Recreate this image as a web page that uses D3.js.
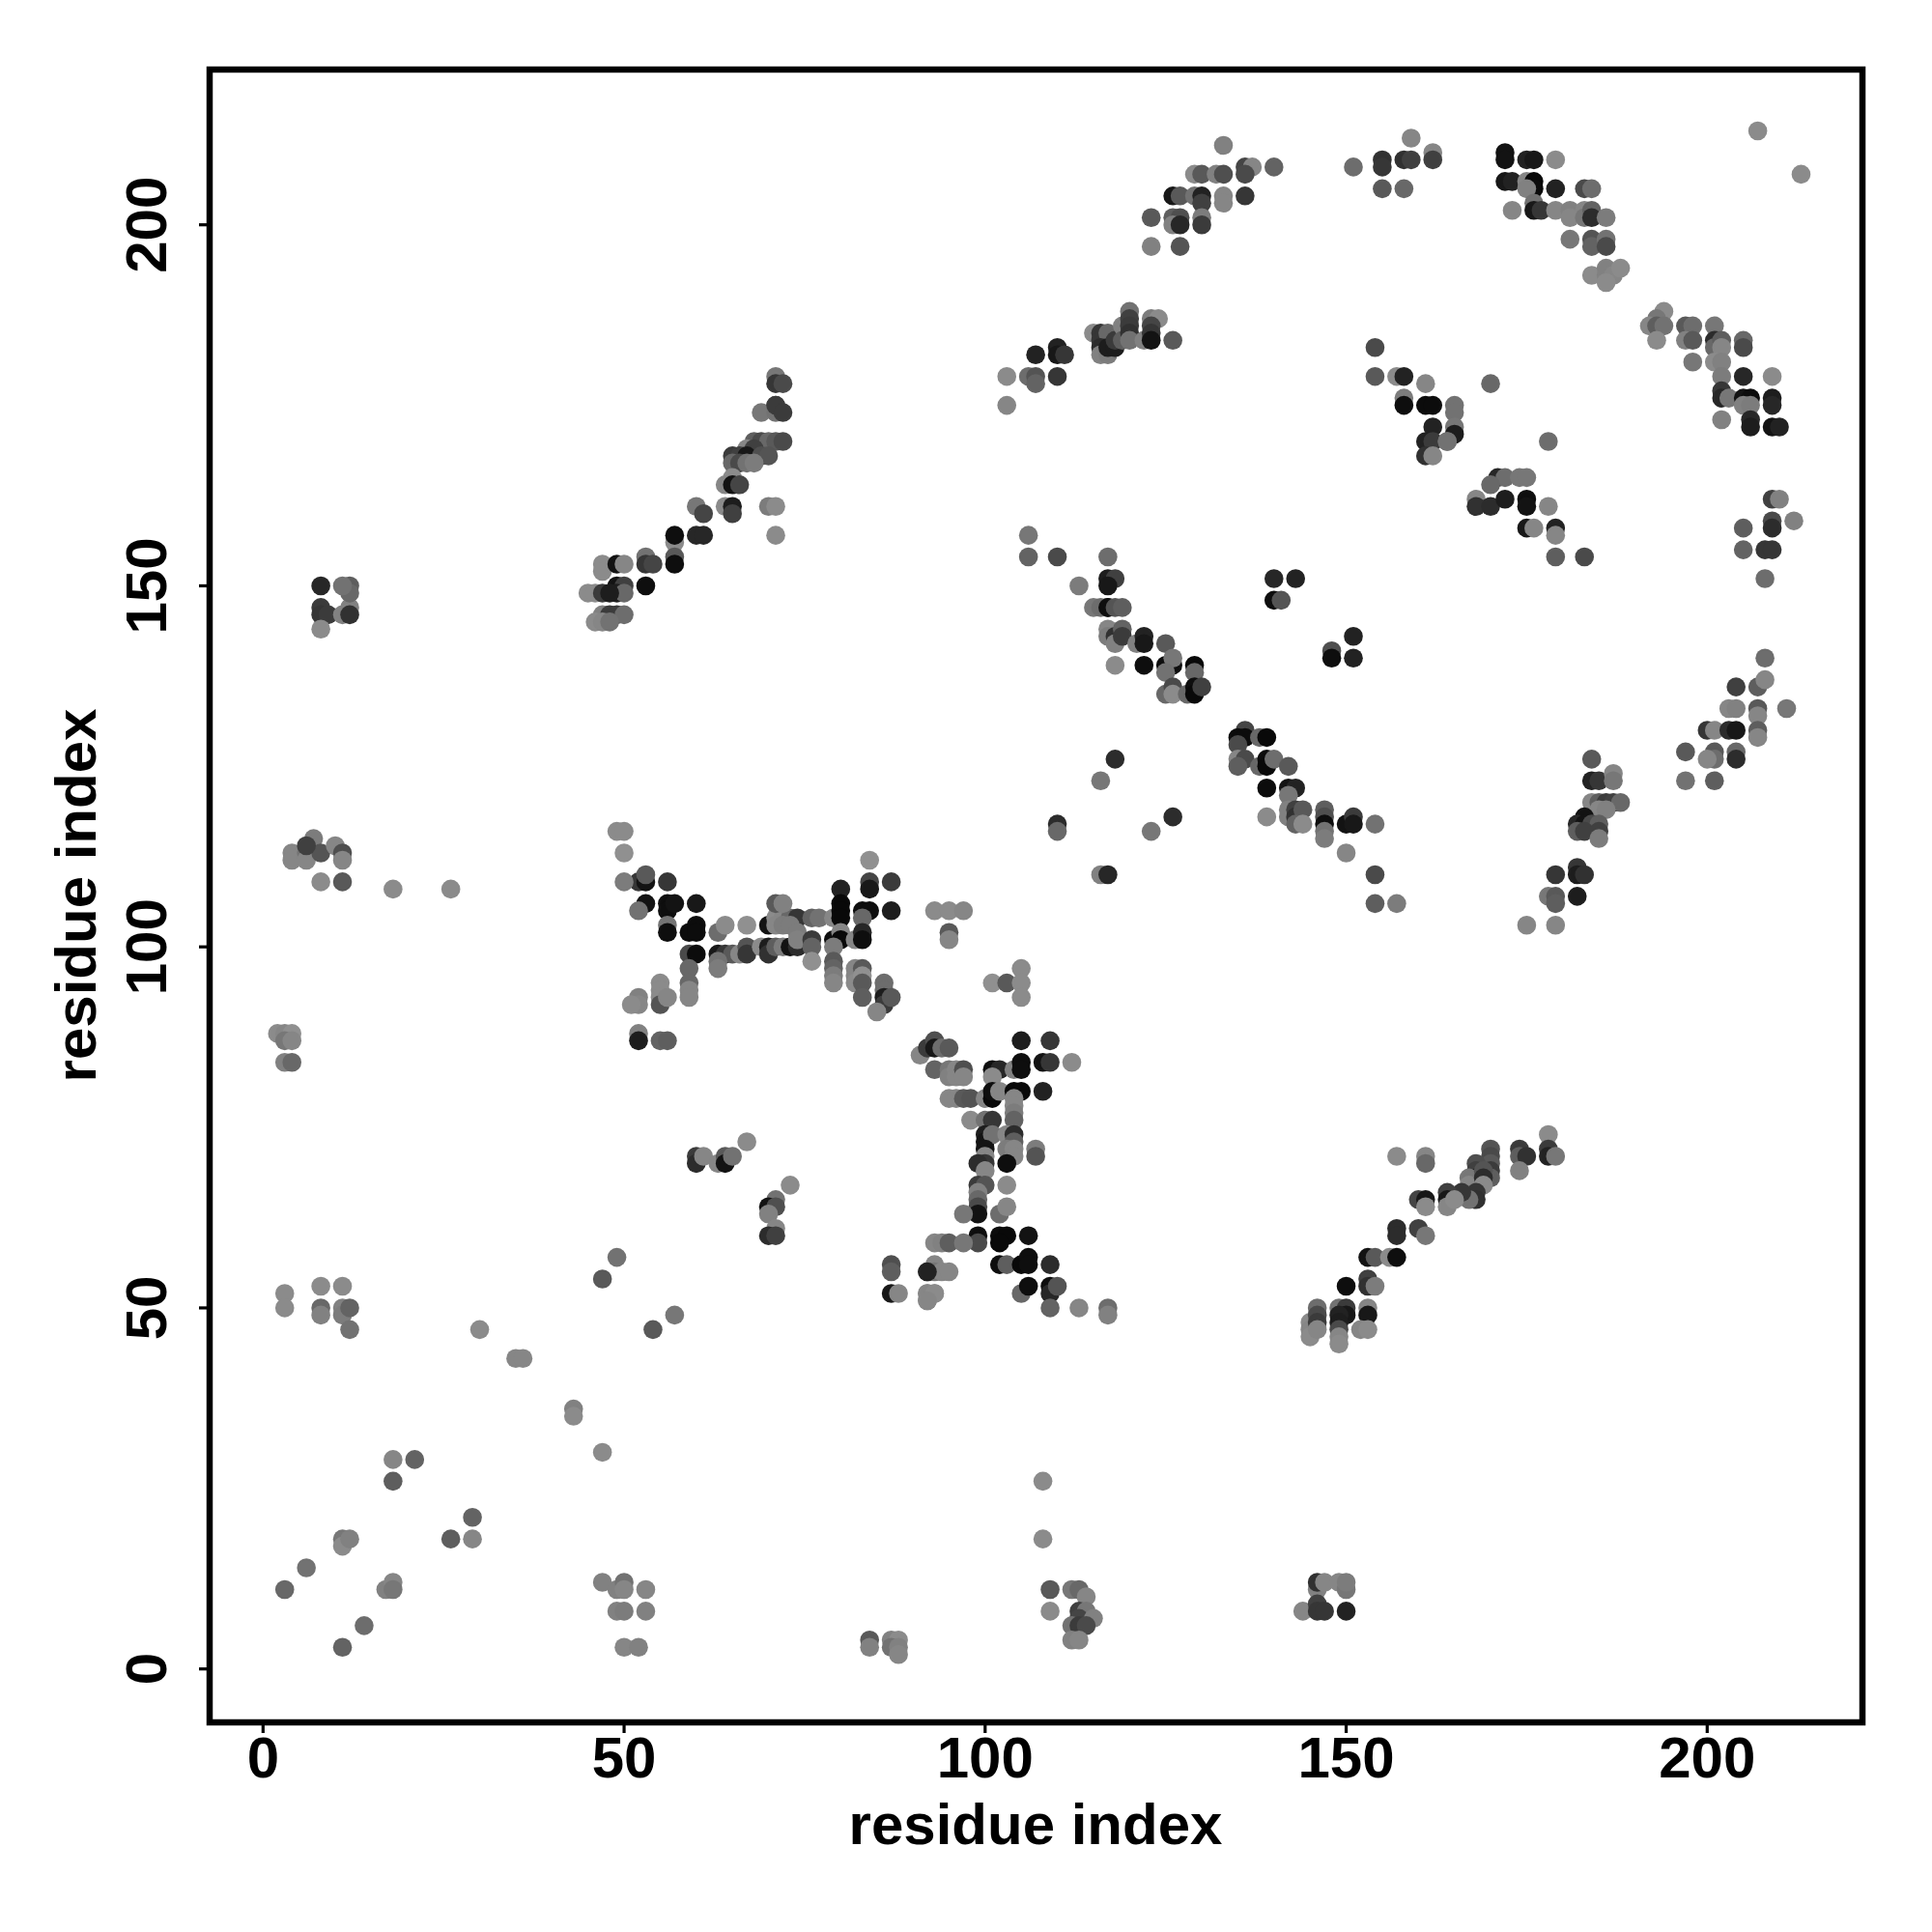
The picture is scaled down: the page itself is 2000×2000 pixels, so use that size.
<!DOCTYPE html>
<html><head><meta charset="utf-8">
<script src="https://cdn.jsdelivr.net/npm/d3@7"></script>
<style>html,body{margin:0;padding:0;background:#fff}svg{display:block}</style></head><body>
<svg id="c" width="2000" height="2000"></svg>
<script>
const tickLabels=[0,50,100,150,200];
const axisTitle="residue index";
// each group: residue x, residue y, grey level of the dot
const xA=[3,6,11,11,11,12,14,17,18,18,18,18,21,26,29,29,47,49,50,50,49,50,53,53,50,52];
const yA=[11,14,18,17,3,18,6,11,12,11,29,26,29,18,21,18,12,11,12,11,8,8,8,11,3,3];
const gA=[100,110,115,135,95,125,105,125,130,115,130,90,95,90,95,130,125,125,110,130,125,120,125,130,130,125];
const xB=[84,84,87,88,87,88,88,108,108,109,109,112,113,114,113,114,113,115,112,113,114,112,113];
const yB=[4,3,4,4,3,3,2,26,18,11,8,11,11,10,8,8,7,7,6,6,6,4,4];
const gB=[85,125,125,135,110,125,130,135,135,85,135,115,100,130,60,115,65,125,110,55,70,125,130];
const xC=[146,146,147,149,150,150,144,146,146,147,150];
const yC=[11,12,12,12,11,12,8,9,8,8,8];
const gC=[125,45,130,130,115,120,130,60,50,50,30];
const xD=[3,3,8,8,8,11,11,11,12,12,30,35,36,43,43,47,49,47,54,57];
const yD=[52,50,53,50,49,53,50,49,50,47,47,43,43,36,35,30,57,54,47,49];
const gD=[135,135,135,100,125,135,125,120,95,110,135,130,130,125,135,135,110,85,85,115];
const xE=[2,3,4,3,4,3,4,60,60,61,63,64,64,65,67,73,71,70,71,70,71,70,71];
const yE=[88,88,88,87,87,84,84,71,70,71,70,71,70,71,73,67,65,64,64,63,61,60,60];
const gE=[135,130,140,115,130,125,100,55,40,130,130,85,15,110,135,135,110,15,75,125,130,40,60];
const xF=[4,4,6,6,7,8,8,10,11,11,11,18,26,8,8,8,9,8,11,12,12,12,12,11];
const yF=[113,112,113,112,115,113,109,114,113,112,109,108,108,150,147,146,146,144,146,147,146,150,149,150];
const gF=[130,130,110,130,120,80,135,130,75,130,85,135,135,35,55,50,55,135,125,125,45,90,100,110];
const xG=[6,49,50,50,52,53,53,56,53,52,56,56,57,60,56,56,59,60,60,59,60,59,59,59,59];
const yG=[114,116,116,113,109,109,110,109,106,105,106,105,106,106,103,102,102,103,102,99,99,97,95,94,93];
const gG=[60,135,135,140,50,15,85,50,15,110,10,10,15,20,112,10,8,8,8,70,8,100,100,130,130];
const xH=[50,55,55,55,55,56,52,52,51,52,52,55,56,63,64,65,66,67,67,63,63,63,64,67];
const yH=[109,95,94,93,92,93,93,92,92,88,87,87,87,99,99,99,99,100,99,98,97,102,103,103];
const gH=[120,135,135,135,80,130,125,130,135,125,25,95,90,20,50,85,130,80,50,110,120,105,135,140];
const xI=[69,70,70,71,72,73,74,70,71,72,73,74,71,72,73,71,72,74,74,76,76,76,76,77,79];
const yI=[100,100,99,100,100,100,100,103,104,104,104,104,103,103,103,106,106,102,101,101,100,98,104,104,104];
const gI=[135,25,45,90,120,15,40,15,135,130,100,50,130,120,120,85,125,120,125,55,95,140,95,110,130];
const xJ=[80,84,84,84,87,80,80,80,83,84,87,83,79,80,80,82,83,83,79,79,79,79,79];
const yJ=[108,112,109,108,109,106,105,104,105,105,105,104,101,102,101,101,102,101,100,98,97,96,95];
const gJ=[30,140,65,20,55,5,5,5,10,10,25,100,10,130,5,130,35,10,120,85,95,120,130];
const xK=[82,82,82,83,83,83,83,86,86,86,86,87,85,93,95,97,95,95,101,103,105,105,105];
const yK=[97,96,95,97,96,95,93,95,94,93,92,93,91,105,105,105,102,101,95,95,97,95,93];
const gK=[130,130,135,85,140,85,90,105,105,25,55,85,130,135,135,130,85,130,140,85,135,135,135];
const xL=[91,92,93,93,94,95,93,95,95,96,96,97,97,101,102,101,104,105,105,105,109,108,109,112];
const yL=[85,86,87,86,86,86,83,83,82,83,82,83,82,83,83,82,83,84,83,87,87,84,84,84];
const gL=[130,55,75,20,105,85,95,115,125,130,130,75,130,10,35,135,125,10,10,25,50,15,50,135];
const xM=[95,96,97,98,100,101,101,102,104,105,108,104,98,100,101,104,104,104,100,100,101,100,103,104,104,103,104,104,103,107,107];
const yM=[79,79,79,79,79,79,80,80,80,80,80,79,76,76,76,78,77,76,74,73,74,72,74,74,73,72,72,71,70,72,71];
const gM=[130,130,85,80,130,5,10,130,5,5,30,130,135,110,50,130,120,95,25,15,110,15,130,40,90,120,130,130,10,120,80];
const xN=[100,100,99,100,99,100,103,99,99,99,99,97,102,103,99,99,102,103,102,106,93,94,95,97];
const yN=[71,70,70,69,67,67,67,66,65,64,63,63,63,64,60,59,60,60,59,60,59,59,59,59];
const gN=[130,50,40,130,55,80,135,125,100,70,15,115,105,130,10,70,8,5,5,15,130,125,90,115];
const xO=[102,103,105,106,106,109,92,93,93,94,95,92,93,92,105,106,109,109,110,109,113,117,117,87,87,87,88,92,92,93,92];
const yO=[56,56,56,57,56,56,55,56,55,55,55,52,52,51,52,53,53,52,53,50,50,50,49,56,55,52,52,55,52,52,51];
const gO=[10,90,5,10,10,40,55,130,115,130,130,130,135,130,100,10,10,35,80,95,130,105,125,75,90,20,130,30,130,135,130];
const xP=[71,71,71,72,69,71,71,72,68,69,70,71,72,67,68,65,66,67,69,70,65,66,67,68,65,64,65,66];
const yP=[179,178,175,178,174,174,175,174,170,170,170,170,170,169,169,168,168,168,168,168,167,167,167,167,165,164,164,164];
const gP=[115,50,55,70,115,110,55,55,90,70,100,85,70,130,60,55,60,20,75,80,100,70,110,120,135,130,15,65];
const xQ=[64,65,65,70,71,71,60,61,57,57,60,61,57,57,53,53,54,47,47,49,50];
const yQ=[161,161,160,161,161,157,161,160,156,157,157,157,154,153,154,153,153,153,152,153,153];
const gQ=[135,25,60,120,135,135,115,65,135,10,35,35,85,10,110,50,65,135,135,15,130];
const xR=[53,49,50,49,50,45,46,47,48,47,48,49,50,46,47,48];
const yR=[150,150,150,149,149,149,149,149,149,146,146,146,146,145,145,145];
const gR=[10,15,60,25,100,135,135,55,25,125,55,55,105,135,130,110];
const xS=[133,129,130,132,133,136,137,136,140,126,127,129,130,130,133,133,136,123,126,127,126,127,130,130,123,127];
const yS=[211,207,207,207,207,208,208,207,208,204,204,204,204,203,204,203,204,201,201,201,200,200,201,200,197,197];
const gS=[125,135,85,125,75,65,130,70,95,20,85,110,30,60,130,130,50,85,90,75,125,35,120,55,125,80];
const xT=[115,116,116,117,116,116,117,117,118,118,119,119,120,120,120,120,120,122,123,124,123,123,123,126];
const yT=[185,185,184,185,183,182,182,183,183,184,186,184,188,187,186,185,184,184,187,187,186,185,184,184];
const gT=[135,50,50,100,40,125,120,25,25,55,125,90,110,60,55,45,110,125,120,135,65,50,15,85];
const xU=[107,110,110,111,103,106,107,107,110,103];
const yU=[182,183,182,182,179,179,179,178,179,175];
const gU=[30,30,20,50,135,105,80,95,50,130];
const xV=[151,155,155,158,159,159,162,162,155,158,172,172,175,176,179,172,173,175,176,176,175,179,183,184];
const yV=[208,209,208,209,209,212,210,209,205,205,210,209,209,209,209,206,206,206,206,205,205,205,205,205];
const gV=[105,45,50,45,60,130,130,60,85,100,15,15,30,20,135,20,30,130,5,8,125,30,70,105];
const xW=[176,176,177,173,179,181,181,183,183,184,184,186,181,184,184,186,186,184,186,186,187,188,186,207,213];
const yW=[203,202,202,202,202,202,201,202,201,202,201,201,198,198,197,198,197,193,194,193,193,194,192,213,207];
const gW=[110,20,50,130,130,125,130,130,115,95,40,120,115,80,95,110,70,135,125,125,130,135,135,135,135];
const xX=[194,193,192,193,194,193,197,198,197,198,198,201,201,201,202,202,201,202,202,205,205,205,209];
const yX=[188,187,186,186,186,184,186,186,184,184,181,186,184,183,184,183,181,181,179,184,183,179,179];
const gX=[135,115,130,90,110,135,85,105,125,85,115,115,40,100,90,130,135,125,120,100,70,35,135];
const xY=[202,202,203,205,206,205,206,209,209,202,206,206,209,210];
const yY=[177,176,176,176,176,175,175,176,175,173,173,172,172,172];
const gY=[50,35,115,15,8,125,120,25,35,125,35,25,15,30];
const xZ=[154,154,157,158,161,170,158,158,161,162,165,165,165,165,162,161,162,164,161,162,164,178];
const yZ=[183,179,179,179,178,178,176,175,175,175,175,174,172,171,172,170,170,170,168,168,170,170];
const gZ=[70,85,135,30,130,100,120,10,8,8,110,110,115,25,30,30,55,110,45,130,110,105];
const xAA=[171,172,174,175,170,168,168,170,172,175,175,178,175,176,179,179,179,183];
const yAA=[165,165,165,165,164,162,161,161,162,162,161,161,158,158,158,157,154,154];
const gAA=[35,105,115,115,100,130,45,40,25,10,15,130,20,130,30,130,90,70];
const xAB=[209,210,209,209,212,205,205,208,209,208];
const yAB=[162,162,159,158,159,158,155,155,155,151];
const gAB=[60,125,70,40,125,90,95,50,50,105];
const xAC=[208,204,207,208,203,204,207,207,211,200,201,203,204,207,207,197,201,201,200,204,204,197,201];
const yAC=[140,136,136,137,133,133,133,132,133,130,130,130,130,130,129,127,127,126,126,127,126,123,123];
const gAC=[105,60,90,130,130,125,85,130,115,50,130,40,20,90,130,85,85,105,130,100,40,110,90];
const xAD=[113,117,118,117,117,115,116,117,118,119,117,117,118,119,118,119,121,122,122,125,118,122,125,126,126,125,129,129];
const yAD=[150,151,151,150,147,147,147,147,147,147,144,143,143,144,142,143,142,143,142,142,139,139,139,139,140,138,139,138];
const gAD=[120,25,60,20,10,115,105,10,80,90,130,120,45,95,125,55,125,30,20,85,135,10,10,10,115,110,5,100];
const xAE=[125,126,126,128,129,129,130];
const yAE=[135,136,135,135,136,135,136];
const gAE=[100,70,135,100,10,5,60];
const xAF=[140,143,140,141,151,148,148,151,118,116,126,123,110,110,116,117];
const yAF=[151,151,148,148,143,141,140,140,126,123,118,116,117,116,110,110];
const gAF=[35,30,10,80,30,75,10,30,40,115,40,115,40,100,125,35];
const xAG=[136,135,136,138,139,135,135,136,135,138,139,139,140,142,139,142,143,142];
const yAG=[130,129,129,129,129,128,126,126,125,125,126,125,126,125,122,122,122,121];
const gAG=[65,8,8,100,5,70,130,70,90,100,8,5,105,85,8,15,30,115];
const xAH=[139,142,142,143,143,144,143,144,147,147,147,147,147,150,151,151,154,150,154,154,157];
const yAH=[118,119,118,119,118,119,117,117,119,118,117,116,115,117,118,117,117,113,110,106,106];
const gAH=[135,125,125,60,45,85,95,135,90,75,10,110,120,15,55,20,110,130,70,90,120];
const xAI=[175,179,179,182,182,183,182,178,179,179];
const yAI=[103,103,110,111,110,110,107,107,107,106];
const gAI=[130,130,50,50,25,45,25,115,85,90];
const xAJ=[184,184,185,187,187,184,185,186,187,188,185,186,183,182,183,184,185,182,183,185,185];
const yAJ=[126,123,123,124,123,120,120,120,120,120,119,119,118,117,117,117,117,116,116,116,115];
const gAJ=[85,30,50,130,115,130,90,55,60,100,130,125,15,35,15,70,90,90,60,60,120];
const xAK=[106,106,110,117];
const yAK=[157,154,154,154];
const gAK=[115,95,70,105];
const xAL=[161,161,170,170,170,170,170,168,168,168,168,167,167,169,169,169,168,168,167,166];
const yAL=[71,70,72,71,70,69,68,70,69,68,67,68,67,69,68,67,66,65,65,66];
const gAL=[130,100,80,70,85,55,90,75,60,30,15,115,130,80,40,135,50,45,110,50];
const xAM=[157,174,174,175,174,178,178,178,179,160,161,161,164,164,164,165];
const yAM=[71,72,71,71,69,74,72,71,71,65,65,64,66,65,64,65];
const gAM=[135,55,90,45,125,135,55,30,115,65,20,135,60,20,130,135];
const xAN=[157,157,160,161,153,154,156,157,153,153,154,150];
const yAN=[61,60,61,60,57,57,57,57,54,53,53,53];
const gAN=[40,40,60,115,15,85,135,10,60,45,120,10];
const xAO=[145,145,145,146,146,146,146,149,150,150,149,149,149,149,149,153,153,152,153];
const yAO=[48,47,46,50,49,48,47,50,50,49,49,48,47,46,45,50,49,47,47];
const gAO=[135,130,135,105,70,55,130,110,55,20,30,25,70,130,135,130,20,130,135];

const groups=[[xA,yA,gA],[xB,yB,gB],[xC,yC,gC],[xD,yD,gD],[xE,yE,gE],[xF,yF,gF],[xG,yG,gG],[xH,yH,gH],[xI,yI,gI],[xJ,yJ,gJ],[xK,yK,gK],[xL,yL,gL],[xM,yM,gM],[xN,yN,gN],[xO,yO,gO],[xP,yP,gP],[xQ,yQ,gQ],[xR,yR,gR],[xS,yS,gS],[xT,yT,gT],[xU,yU,gU],[xV,yV,gV],[xW,yW,gW],[xX,yX,gX],[xY,yY,gY],[xZ,yZ,gZ],[xAA,yAA,gAA],[xAB,yAB,gAB],[xAC,yAC,gAC],[xAD,yAD,gAD],[xAE,yAE,gAE],[xAF,yAF,gAF],[xAG,yAG,gAG],[xAH,yAH,gAH],[xAI,yAI,gAI],[xAJ,yAJ,gAJ],[xAK,yAK,gAK],[xAL,yAL,gAL],[xAM,yAM,gAM],[xAN,yAN,gAN],[xAO,yAO,gAO]];
const points=[];
groups.forEach(([xs,ys,gs])=>{
  xs.forEach((v,i)=>{if(ys[i]!==undefined&&gs[i]!==undefined)points.push({x:v,y:ys[i],g:gs[i]});});
});

const L=217,R=1928,T=72,B=1783;
const x=d3.scaleLinear().domain([-7.4,221.5]).range([L,R]);
const y=d3.scaleLinear().domain([-7.4,221.5]).range([B,T]);
const svg=d3.select("#c");
const font="'Liberation Sans',Arial,sans-serif";

svg.append("g").selectAll("circle").data(points).join("circle")
  .attr("cx",d=>x(d.x)).attr("cy",d=>y(d.y)).attr("r",9.8)
  .attr("fill",d=>d3.rgb(d.g+4,d.g+4,d.g+4));

svg.append("rect").attr("x",L).attr("y",T).attr("width",R-L).attr("height",B-T)
  .attr("fill","none").attr("stroke","#000").attr("stroke-width",6.5);

const ax=svg.append("g").attr("transform",`translate(0,${B})`)
  .call(d3.axisBottom(x).tickValues(tickLabels).tickSize(11).tickPadding(9).offset(0));
const ay=svg.append("g").attr("transform",`translate(${L},0)`)
  .call(d3.axisLeft(y).tickValues(tickLabels).tickSize(11).offset(0));
[ax,ay].forEach(a=>{a.select(".domain").remove();a.selectAll("line").attr("stroke","#000").attr("stroke-width",3.2);
  a.selectAll("text").attr("font-family",font).attr("font-weight","700").attr("font-size",60).attr("fill","#000");});
ay.selectAll("text").attr("text-anchor","middle").attr("dy",0).attr("x",0).attr("y",0)
  .attr("transform",`translate(${172-L},0) rotate(-90)`);
ax.selectAll("text").attr("dy",null).attr("y",1840-B);

svg.append("text").attr("x",1072).attr("y",1909).attr("text-anchor","middle")
  .attr("font-family",font).attr("font-weight","700").attr("font-size",60).text(axisTitle);
svg.append("text").attr("transform","translate(99,927) rotate(-90)").attr("text-anchor","middle")
  .attr("font-family",font).attr("font-weight","700").attr("font-size",60).text(axisTitle);
</script></body></html>
